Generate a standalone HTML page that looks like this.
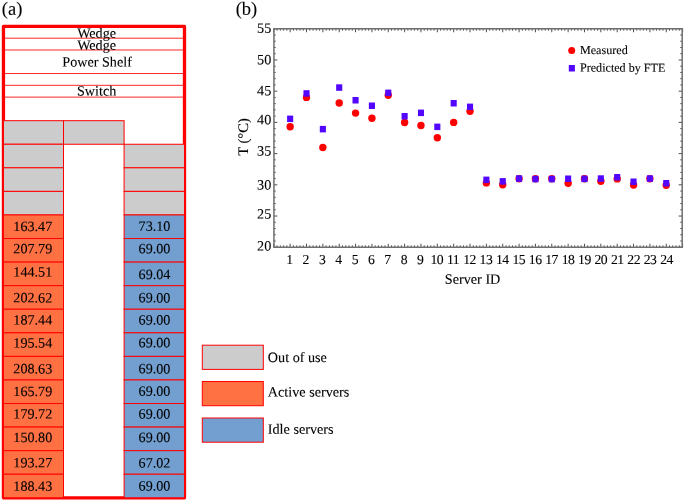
<!DOCTYPE html>
<html lang="en"><head><meta charset="utf-8"><title>Rack power and server temperature</title>
<style>html,body{margin:0;padding:0;background:#fff;}body{width:685px;height:501px;overflow:hidden;}svg{display:block;will-change:transform;}text{font-family:"Liberation Serif", "DejaVu Serif", serif;fill:#000;stroke:#000;stroke-width:0.1px;}</style>
</head><body>
<svg width="685" height="501" viewBox="0 0 685 501">
<rect x="0" y="0" width="685" height="501" fill="#ffffff"/>
<text x="1.8" y="14.7" transform="rotate(0.04 1.8 14.7)" font-size="18.5">(a)</text>
<rect x="3.45" y="26.40" width="181.05" height="471.40" fill="none" stroke="#ff0000" stroke-width="3.3" stroke-linejoin="round"/>
<rect x="3.45" y="120.68" width="60.05" height="23.57" fill="#cccccc" stroke="#ff0000" stroke-width="1.00"/>
<rect x="63.50" y="120.68" width="60.60" height="23.57" fill="#cccccc" stroke="#ff0000" stroke-width="1.00"/>
<rect x="3.45" y="144.25" width="60.05" height="23.57" fill="#cccccc" stroke="#ff0000" stroke-width="1.00"/>
<rect x="124.10" y="144.25" width="60.40" height="23.57" fill="#cccccc" stroke="#ff0000" stroke-width="1.00"/>
<rect x="3.45" y="167.82" width="60.05" height="23.57" fill="#cccccc" stroke="#ff0000" stroke-width="1.00"/>
<rect x="124.10" y="167.82" width="60.40" height="23.57" fill="#cccccc" stroke="#ff0000" stroke-width="1.00"/>
<rect x="3.45" y="191.39" width="60.05" height="23.57" fill="#cccccc" stroke="#ff0000" stroke-width="1.00"/>
<rect x="124.10" y="191.39" width="60.40" height="23.57" fill="#cccccc" stroke="#ff0000" stroke-width="1.00"/>
<rect x="3.45" y="214.96" width="60.05" height="23.57" fill="#ff7043" stroke="#ff0000" stroke-width="1.00"/>
<rect x="124.10" y="214.96" width="60.40" height="23.57" fill="#729fcf" stroke="#ff0000" stroke-width="1.00"/>
<text x="32.80" y="230.95" transform="rotate(0.04 32.80 230.95)" font-size="14.15" text-anchor="middle">163.47</text>
<text x="154.50" y="230.70" transform="rotate(0.04 154.50 230.70)" font-size="14.15" text-anchor="middle">73.10</text>
<rect x="3.45" y="238.53" width="60.05" height="23.57" fill="#ff7043" stroke="#ff0000" stroke-width="1.00"/>
<rect x="124.10" y="238.53" width="60.40" height="23.57" fill="#729fcf" stroke="#ff0000" stroke-width="1.00"/>
<text x="32.80" y="253.28" transform="rotate(0.04 32.80 253.28)" font-size="14.15" text-anchor="middle">207.79</text>
<text x="154.50" y="253.15" transform="rotate(0.04 154.50 253.15)" font-size="14.15" text-anchor="middle">69.00</text>
<rect x="3.45" y="262.10" width="60.05" height="23.57" fill="#ff7043" stroke="#ff0000" stroke-width="1.00"/>
<rect x="124.10" y="262.10" width="60.40" height="23.57" fill="#729fcf" stroke="#ff0000" stroke-width="1.00"/>
<text x="32.80" y="276.50" transform="rotate(0.04 32.80 276.50)" font-size="14.15" text-anchor="middle">144.51</text>
<text x="154.50" y="279.10" transform="rotate(0.04 154.50 279.10)" font-size="14.15" text-anchor="middle">69.04</text>
<rect x="3.45" y="285.67" width="60.05" height="23.57" fill="#ff7043" stroke="#ff0000" stroke-width="1.00"/>
<rect x="124.10" y="285.67" width="60.40" height="23.57" fill="#729fcf" stroke="#ff0000" stroke-width="1.00"/>
<text x="32.80" y="302.39" transform="rotate(0.04 32.80 302.39)" font-size="14.15" text-anchor="middle">202.62</text>
<text x="154.50" y="302.39" transform="rotate(0.04 154.50 302.39)" font-size="14.15" text-anchor="middle">69.00</text>
<rect x="3.45" y="309.24" width="60.05" height="23.57" fill="#ff7043" stroke="#ff0000" stroke-width="1.00"/>
<rect x="124.10" y="309.24" width="60.40" height="23.57" fill="#729fcf" stroke="#ff0000" stroke-width="1.00"/>
<text x="32.80" y="324.58" transform="rotate(0.04 32.80 324.58)" font-size="14.15" text-anchor="middle">187.44</text>
<text x="154.50" y="324.40" transform="rotate(0.04 154.50 324.40)" font-size="14.15" text-anchor="middle">69.00</text>
<rect x="3.45" y="332.81" width="60.05" height="23.57" fill="#ff7043" stroke="#ff0000" stroke-width="1.00"/>
<rect x="124.10" y="332.81" width="60.40" height="23.57" fill="#729fcf" stroke="#ff0000" stroke-width="1.00"/>
<text x="32.80" y="347.50" transform="rotate(0.04 32.80 347.50)" font-size="14.15" text-anchor="middle">195.54</text>
<text x="154.50" y="347.30" transform="rotate(0.04 154.50 347.30)" font-size="14.15" text-anchor="middle">69.00</text>
<rect x="3.45" y="356.38" width="60.05" height="23.57" fill="#ff7043" stroke="#ff0000" stroke-width="1.00"/>
<rect x="124.10" y="356.38" width="60.40" height="23.57" fill="#729fcf" stroke="#ff0000" stroke-width="1.00"/>
<text x="32.80" y="373.39" transform="rotate(0.04 32.80 373.39)" font-size="14.15" text-anchor="middle">208.63</text>
<text x="154.50" y="373.39" transform="rotate(0.04 154.50 373.39)" font-size="14.15" text-anchor="middle">69.00</text>
<rect x="3.45" y="379.95" width="60.05" height="23.57" fill="#ff7043" stroke="#ff0000" stroke-width="1.00"/>
<rect x="124.10" y="379.95" width="60.40" height="23.57" fill="#729fcf" stroke="#ff0000" stroke-width="1.00"/>
<text x="32.80" y="396.00" transform="rotate(0.04 32.80 396.00)" font-size="14.15" text-anchor="middle">165.79</text>
<text x="154.50" y="395.70" transform="rotate(0.04 154.50 395.70)" font-size="14.15" text-anchor="middle">69.00</text>
<rect x="3.45" y="403.52" width="60.05" height="23.57" fill="#ff7043" stroke="#ff0000" stroke-width="1.00"/>
<rect x="124.10" y="403.52" width="60.40" height="23.57" fill="#729fcf" stroke="#ff0000" stroke-width="1.00"/>
<text x="32.80" y="418.50" transform="rotate(0.04 32.80 418.50)" font-size="14.15" text-anchor="middle">179.72</text>
<text x="154.50" y="418.50" transform="rotate(0.04 154.50 418.50)" font-size="14.15" text-anchor="middle">69.00</text>
<rect x="3.45" y="427.09" width="60.05" height="23.57" fill="#ff7043" stroke="#ff0000" stroke-width="1.00"/>
<rect x="124.10" y="427.09" width="60.40" height="23.57" fill="#729fcf" stroke="#ff0000" stroke-width="1.00"/>
<text x="32.80" y="442.00" transform="rotate(0.04 32.80 442.00)" font-size="14.15" text-anchor="middle">150.80</text>
<text x="154.50" y="442.00" transform="rotate(0.04 154.50 442.00)" font-size="14.15" text-anchor="middle">69.00</text>
<rect x="3.45" y="450.66" width="60.05" height="23.57" fill="#ff7043" stroke="#ff0000" stroke-width="1.00"/>
<rect x="124.10" y="450.66" width="60.40" height="23.57" fill="#729fcf" stroke="#ff0000" stroke-width="1.00"/>
<text x="32.80" y="467.20" transform="rotate(0.04 32.80 467.20)" font-size="14.15" text-anchor="middle">193.27</text>
<text x="154.50" y="467.40" transform="rotate(0.04 154.50 467.40)" font-size="14.15" text-anchor="middle">67.02</text>
<rect x="3.45" y="474.23" width="60.05" height="23.57" fill="#ff7043" stroke="#ff0000" stroke-width="1.00"/>
<rect x="124.10" y="474.23" width="60.40" height="23.57" fill="#729fcf" stroke="#ff0000" stroke-width="1.00"/>
<text x="32.80" y="490.70" transform="rotate(0.04 32.80 490.70)" font-size="14.15" text-anchor="middle">188.43</text>
<text x="154.50" y="490.60" transform="rotate(0.04 154.50 490.60)" font-size="14.15" text-anchor="middle">69.00</text>
<line x1="3.45" y1="38.19" x2="184.50" y2="38.19" stroke="#ff0000" stroke-width="0.85"/>
<line x1="3.45" y1="49.97" x2="184.50" y2="49.97" stroke="#ff0000" stroke-width="0.85"/>
<line x1="3.45" y1="73.54" x2="184.50" y2="73.54" stroke="#ff0000" stroke-width="0.85"/>
<line x1="3.45" y1="85.32" x2="184.50" y2="85.32" stroke="#ff0000" stroke-width="0.85"/>
<line x1="3.45" y1="97.11" x2="184.50" y2="97.11" stroke="#ff0000" stroke-width="0.85"/>
<text x="96.6" y="37.7" transform="rotate(0.04 96.6 37.7)" font-size="14.15" text-anchor="middle">Wedge</text>
<text x="96.6" y="49.8" transform="rotate(0.04 96.6 49.8)" font-size="14.15" text-anchor="middle">Wedge</text>
<text x="97.1" y="66.5" transform="rotate(0.04 97.1 66.5)" font-size="14.15" text-anchor="middle">Power Shelf</text>
<text x="96.6" y="95.5" transform="rotate(0.04 96.6 95.5)" font-size="14.15" text-anchor="middle">Switch</text>
<rect x="202.3" y="345.20" width="61" height="24.2" fill="#cccccc" stroke="#ff0000" stroke-width="1"/>
<text x="267.8" y="362.00" transform="rotate(0.04 267.8 362.00)" font-size="14.2">Out of use</text>
<rect x="202.3" y="381.50" width="61" height="24.2" fill="#ff7043" stroke="#ff0000" stroke-width="1"/>
<text x="267.8" y="396.40" transform="rotate(0.04 267.8 396.40)" font-size="14.2">Active servers</text>
<rect x="202.3" y="418.00" width="61" height="24.2" fill="#729fcf" stroke="#ff0000" stroke-width="1"/>
<text x="267.8" y="433.80" transform="rotate(0.04 267.8 433.80)" font-size="14.2">Idle servers</text>
<text x="235.7" y="14.7" transform="rotate(0.04 235.7 14.7)" font-size="18.5">(b)</text>
<path d="M273.80 247.25v-3.50M273.80 28.75v3.50M277.07 247.25v-1.90M277.07 28.75v1.90M280.34 247.25v-1.90M280.34 28.75v1.90M283.61 247.25v-1.90M283.61 28.75v1.90M286.88 247.25v-1.90M286.88 28.75v1.90M290.15 247.25v-3.50M290.15 28.75v3.50M293.42 247.25v-1.90M293.42 28.75v1.90M296.69 247.25v-1.90M296.69 28.75v1.90M299.96 247.25v-1.90M299.96 28.75v1.90M303.23 247.25v-1.90M303.23 28.75v1.90M306.50 247.25v-3.50M306.50 28.75v3.50M309.77 247.25v-1.90M309.77 28.75v1.90M313.04 247.25v-1.90M313.04 28.75v1.90M316.32 247.25v-1.90M316.32 28.75v1.90M319.59 247.25v-1.90M319.59 28.75v1.90M322.86 247.25v-3.50M322.86 28.75v3.50M326.13 247.25v-1.90M326.13 28.75v1.90M329.40 247.25v-1.90M329.40 28.75v1.90M332.67 247.25v-1.90M332.67 28.75v1.90M335.94 247.25v-1.90M335.94 28.75v1.90M339.21 247.25v-3.50M339.21 28.75v3.50M342.48 247.25v-1.90M342.48 28.75v1.90M345.75 247.25v-1.90M345.75 28.75v1.90M349.02 247.25v-1.90M349.02 28.75v1.90M352.29 247.25v-1.90M352.29 28.75v1.90M355.56 247.25v-3.50M355.56 28.75v3.50M358.83 247.25v-1.90M358.83 28.75v1.90M362.10 247.25v-1.90M362.10 28.75v1.90M365.37 247.25v-1.90M365.37 28.75v1.90M368.64 247.25v-1.90M368.64 28.75v1.90M371.91 247.25v-3.50M371.91 28.75v3.50M375.18 247.25v-1.90M375.18 28.75v1.90M378.45 247.25v-1.90M378.45 28.75v1.90M381.72 247.25v-1.90M381.72 28.75v1.90M384.99 247.25v-1.90M384.99 28.75v1.90M388.26 247.25v-3.50M388.26 28.75v3.50M391.53 247.25v-1.90M391.53 28.75v1.90M394.80 247.25v-1.90M394.80 28.75v1.90M398.08 247.25v-1.90M398.08 28.75v1.90M401.35 247.25v-1.90M401.35 28.75v1.90M404.62 247.25v-3.50M404.62 28.75v3.50M407.89 247.25v-1.90M407.89 28.75v1.90M411.16 247.25v-1.90M411.16 28.75v1.90M414.43 247.25v-1.90M414.43 28.75v1.90M417.70 247.25v-1.90M417.70 28.75v1.90M420.97 247.25v-3.50M420.97 28.75v3.50M424.24 247.25v-1.90M424.24 28.75v1.90M427.51 247.25v-1.90M427.51 28.75v1.90M430.78 247.25v-1.90M430.78 28.75v1.90M434.05 247.25v-1.90M434.05 28.75v1.90M437.32 247.25v-3.50M437.32 28.75v3.50M440.59 247.25v-1.90M440.59 28.75v1.90M443.86 247.25v-1.90M443.86 28.75v1.90M447.13 247.25v-1.90M447.13 28.75v1.90M450.40 247.25v-1.90M450.40 28.75v1.90M453.67 247.25v-3.50M453.67 28.75v3.50M456.94 247.25v-1.90M456.94 28.75v1.90M460.21 247.25v-1.90M460.21 28.75v1.90M463.48 247.25v-1.90M463.48 28.75v1.90M466.75 247.25v-1.90M466.75 28.75v1.90M470.02 247.25v-3.50M470.02 28.75v3.50M473.29 247.25v-1.90M473.29 28.75v1.90M476.56 247.25v-1.90M476.56 28.75v1.90M479.84 247.25v-1.90M479.84 28.75v1.90M483.11 247.25v-1.90M483.11 28.75v1.90M486.38 247.25v-3.50M486.38 28.75v3.50M489.65 247.25v-1.90M489.65 28.75v1.90M492.92 247.25v-1.90M492.92 28.75v1.90M496.19 247.25v-1.90M496.19 28.75v1.90M499.46 247.25v-1.90M499.46 28.75v1.90M502.73 247.25v-3.50M502.73 28.75v3.50M506.00 247.25v-1.90M506.00 28.75v1.90M509.27 247.25v-1.90M509.27 28.75v1.90M512.54 247.25v-1.90M512.54 28.75v1.90M515.81 247.25v-1.90M515.81 28.75v1.90M519.08 247.25v-3.50M519.08 28.75v3.50M522.35 247.25v-1.90M522.35 28.75v1.90M525.62 247.25v-1.90M525.62 28.75v1.90M528.89 247.25v-1.90M528.89 28.75v1.90M532.16 247.25v-1.90M532.16 28.75v1.90M535.43 247.25v-3.50M535.43 28.75v3.50M538.70 247.25v-1.90M538.70 28.75v1.90M541.97 247.25v-1.90M541.97 28.75v1.90M545.24 247.25v-1.90M545.24 28.75v1.90M548.51 247.25v-1.90M548.51 28.75v1.90M551.78 247.25v-3.50M551.78 28.75v3.50M555.05 247.25v-1.90M555.05 28.75v1.90M558.32 247.25v-1.90M558.32 28.75v1.90M561.60 247.25v-1.90M561.60 28.75v1.90M564.87 247.25v-1.90M564.87 28.75v1.90M568.14 247.25v-3.50M568.14 28.75v3.50M571.41 247.25v-1.90M571.41 28.75v1.90M574.68 247.25v-1.90M574.68 28.75v1.90M577.95 247.25v-1.90M577.95 28.75v1.90M581.22 247.25v-1.90M581.22 28.75v1.90M584.49 247.25v-3.50M584.49 28.75v3.50M587.76 247.25v-1.90M587.76 28.75v1.90M591.03 247.25v-1.90M591.03 28.75v1.90M594.30 247.25v-1.90M594.30 28.75v1.90M597.57 247.25v-1.90M597.57 28.75v1.90M600.84 247.25v-3.50M600.84 28.75v3.50M604.11 247.25v-1.90M604.11 28.75v1.90M607.38 247.25v-1.90M607.38 28.75v1.90M610.65 247.25v-1.90M610.65 28.75v1.90M613.92 247.25v-1.90M613.92 28.75v1.90M617.19 247.25v-3.50M617.19 28.75v3.50M620.46 247.25v-1.90M620.46 28.75v1.90M623.73 247.25v-1.90M623.73 28.75v1.90M627.00 247.25v-1.90M627.00 28.75v1.90M630.27 247.25v-1.90M630.27 28.75v1.90M633.54 247.25v-3.50M633.54 28.75v3.50M636.81 247.25v-1.90M636.81 28.75v1.90M640.08 247.25v-1.90M640.08 28.75v1.90M643.36 247.25v-1.90M643.36 28.75v1.90M646.63 247.25v-1.90M646.63 28.75v1.90M649.90 247.25v-3.50M649.90 28.75v3.50M653.17 247.25v-1.90M653.17 28.75v1.90M656.44 247.25v-1.90M656.44 28.75v1.90M659.71 247.25v-1.90M659.71 28.75v1.90M662.98 247.25v-1.90M662.98 28.75v1.90M666.25 247.25v-3.50M666.25 28.75v3.50M669.52 247.25v-1.90M669.52 28.75v1.90M672.79 247.25v-1.90M672.79 28.75v1.90M676.06 247.25v-1.90M676.06 28.75v1.90M679.33 247.25v-1.90M679.33 28.75v1.90M682.60 247.25v-3.50M682.60 28.75v3.50M273.80 247.25h3.50M682.20 247.25h-3.50M273.80 241.01h1.90M682.20 241.01h-1.90M273.80 234.76h1.90M682.20 234.76h-1.90M273.80 228.52h1.90M682.20 228.52h-1.90M273.80 222.28h1.90M682.20 222.28h-1.90M273.80 216.04h3.50M682.20 216.04h-3.50M273.80 209.79h1.90M682.20 209.79h-1.90M273.80 203.55h1.90M682.20 203.55h-1.90M273.80 197.31h1.90M682.20 197.31h-1.90M273.80 191.06h1.90M682.20 191.06h-1.90M273.80 184.82h3.50M682.20 184.82h-3.50M273.80 178.58h1.90M682.20 178.58h-1.90M273.80 172.34h1.90M682.20 172.34h-1.90M273.80 166.09h1.90M682.20 166.09h-1.90M273.80 159.85h1.90M682.20 159.85h-1.90M273.80 153.61h3.50M682.20 153.61h-3.50M273.80 147.36h1.90M682.20 147.36h-1.90M273.80 141.12h1.90M682.20 141.12h-1.90M273.80 134.88h1.90M682.20 134.88h-1.90M273.80 128.64h1.90M682.20 128.64h-1.90M273.80 122.39h3.50M682.20 122.39h-3.50M273.80 116.15h1.90M682.20 116.15h-1.90M273.80 109.91h1.90M682.20 109.91h-1.90M273.80 103.66h1.90M682.20 103.66h-1.90M273.80 97.42h1.90M682.20 97.42h-1.90M273.80 91.18h3.50M682.20 91.18h-3.50M273.80 84.94h1.90M682.20 84.94h-1.90M273.80 78.69h1.90M682.20 78.69h-1.90M273.80 72.45h1.90M682.20 72.45h-1.90M273.80 66.21h1.90M682.20 66.21h-1.90M273.80 59.96h3.50M682.20 59.96h-3.50M273.80 53.72h1.90M682.20 53.72h-1.90M273.80 47.48h1.90M682.20 47.48h-1.90M273.80 41.24h1.90M682.20 41.24h-1.90M273.80 34.99h1.90M682.20 34.99h-1.90M273.80 28.75h3.50M682.20 28.75h-3.50" stroke="#4d4d4d" stroke-width="1" fill="none"/>
<rect x="273.95" y="28.75" width="408.25" height="218.50" fill="none" stroke="#6e6e6e" stroke-width="1.5"/>
<text x="271.30" y="250.40" transform="rotate(0.04 271.30 250.40)" font-size="14.2" text-anchor="end">20</text>
<text x="271.30" y="218.54" transform="rotate(0.04 271.30 218.54)" font-size="14.2" text-anchor="end">25</text>
<text x="271.30" y="189.46" transform="rotate(0.04 271.30 189.46)" font-size="14.2" text-anchor="end">30</text>
<text x="271.30" y="155.48" transform="rotate(0.04 271.30 155.48)" font-size="14.2" text-anchor="end">35</text>
<text x="271.30" y="124.36" transform="rotate(0.04 271.30 124.36)" font-size="14.2" text-anchor="end">40</text>
<text x="271.30" y="95.34" transform="rotate(0.04 271.30 95.34)" font-size="14.2" text-anchor="end">45</text>
<text x="271.30" y="64.16" transform="rotate(0.04 271.30 64.16)" font-size="14.2" text-anchor="end">50</text>
<text x="271.30" y="32.66" transform="rotate(0.04 271.30 32.66)" font-size="14.2" text-anchor="end">55</text>
<text x="289.65" y="264.00" transform="rotate(0.04 289.65 264.00)" font-size="13.7" text-anchor="middle">1</text>
<text x="306.00" y="264.00" transform="rotate(0.04 306.00 264.00)" font-size="13.7" text-anchor="middle">2</text>
<text x="322.36" y="264.00" transform="rotate(0.04 322.36 264.00)" font-size="13.7" text-anchor="middle">3</text>
<text x="338.71" y="264.00" transform="rotate(0.04 338.71 264.00)" font-size="13.7" text-anchor="middle">4</text>
<text x="355.06" y="264.00" transform="rotate(0.04 355.06 264.00)" font-size="13.7" text-anchor="middle">5</text>
<text x="371.41" y="264.00" transform="rotate(0.04 371.41 264.00)" font-size="13.7" text-anchor="middle">6</text>
<text x="387.76" y="264.00" transform="rotate(0.04 387.76 264.00)" font-size="13.7" text-anchor="middle">7</text>
<text x="404.12" y="264.00" transform="rotate(0.04 404.12 264.00)" font-size="13.7" text-anchor="middle">8</text>
<text x="420.47" y="264.00" transform="rotate(0.04 420.47 264.00)" font-size="13.7" text-anchor="middle">9</text>
<text x="436.72" y="264.00" transform="rotate(0.04 436.72 264.00)" font-size="13.7" text-anchor="middle" letter-spacing="-0.5">10</text>
<text x="453.13" y="264.00" transform="rotate(0.04 453.13 264.00)" font-size="13.7" text-anchor="middle" letter-spacing="-0.5">11</text>
<text x="469.54" y="264.00" transform="rotate(0.04 469.54 264.00)" font-size="13.7" text-anchor="middle" letter-spacing="-0.5">12</text>
<text x="485.96" y="264.00" transform="rotate(0.04 485.96 264.00)" font-size="13.7" text-anchor="middle" letter-spacing="-0.5">13</text>
<text x="502.37" y="264.00" transform="rotate(0.04 502.37 264.00)" font-size="13.7" text-anchor="middle" letter-spacing="-0.5">14</text>
<text x="518.78" y="264.00" transform="rotate(0.04 518.78 264.00)" font-size="13.7" text-anchor="middle" letter-spacing="-0.5">15</text>
<text x="535.19" y="264.00" transform="rotate(0.04 535.19 264.00)" font-size="13.7" text-anchor="middle" letter-spacing="-0.5">16</text>
<text x="551.60" y="264.00" transform="rotate(0.04 551.60 264.00)" font-size="13.7" text-anchor="middle" letter-spacing="-0.5">17</text>
<text x="568.02" y="264.00" transform="rotate(0.04 568.02 264.00)" font-size="13.7" text-anchor="middle" letter-spacing="-0.5">18</text>
<text x="584.43" y="264.00" transform="rotate(0.04 584.43 264.00)" font-size="13.7" text-anchor="middle" letter-spacing="-0.5">19</text>
<text x="600.84" y="264.00" transform="rotate(0.04 600.84 264.00)" font-size="13.7" text-anchor="middle" letter-spacing="-0.5">20</text>
<text x="617.25" y="264.00" transform="rotate(0.04 617.25 264.00)" font-size="13.7" text-anchor="middle" letter-spacing="-0.5">21</text>
<text x="633.66" y="264.00" transform="rotate(0.04 633.66 264.00)" font-size="13.7" text-anchor="middle" letter-spacing="-0.5">22</text>
<text x="650.08" y="264.00" transform="rotate(0.04 650.08 264.00)" font-size="13.7" text-anchor="middle" letter-spacing="-0.5">23</text>
<text x="666.49" y="264.00" transform="rotate(0.04 666.49 264.00)" font-size="13.7" text-anchor="middle" letter-spacing="-0.5">24</text>
<text x="472.6" y="283.8" transform="rotate(0.04 472.6 283.8)" font-size="14.2" text-anchor="middle">Server ID</text>
<text transform="translate(247.9,137) rotate(-89.96)" font-size="14.6" text-anchor="middle">T (°C)</text>
<circle cx="290.15" cy="126.70" r="3.7" fill="#ff0000"/>
<circle cx="306.50" cy="97.40" r="3.7" fill="#ff0000"/>
<circle cx="322.86" cy="147.50" r="3.7" fill="#ff0000"/>
<circle cx="339.21" cy="103.00" r="3.7" fill="#ff0000"/>
<circle cx="355.56" cy="113.10" r="3.7" fill="#ff0000"/>
<circle cx="371.91" cy="118.20" r="3.7" fill="#ff0000"/>
<circle cx="388.26" cy="95.20" r="3.7" fill="#ff0000"/>
<circle cx="404.62" cy="122.50" r="3.7" fill="#ff0000"/>
<circle cx="420.97" cy="125.50" r="3.7" fill="#ff0000"/>
<circle cx="437.32" cy="137.70" r="3.7" fill="#ff0000"/>
<circle cx="453.67" cy="122.40" r="3.7" fill="#ff0000"/>
<circle cx="470.02" cy="111.20" r="3.7" fill="#ff0000"/>
<circle cx="486.38" cy="182.90" r="3.7" fill="#ff0000"/>
<circle cx="502.73" cy="184.70" r="3.7" fill="#ff0000"/>
<circle cx="519.08" cy="178.80" r="3.7" fill="#ff0000"/>
<circle cx="535.43" cy="178.80" r="3.7" fill="#ff0000"/>
<circle cx="551.78" cy="178.70" r="3.7" fill="#ff0000"/>
<circle cx="568.14" cy="183.20" r="3.7" fill="#ff0000"/>
<circle cx="584.49" cy="178.80" r="3.7" fill="#ff0000"/>
<circle cx="600.84" cy="181.30" r="3.7" fill="#ff0000"/>
<circle cx="617.19" cy="178.90" r="3.7" fill="#ff0000"/>
<circle cx="633.54" cy="185.00" r="3.7" fill="#ff0000"/>
<circle cx="649.90" cy="178.80" r="3.7" fill="#ff0000"/>
<circle cx="666.25" cy="185.30" r="3.7" fill="#ff0000"/>
<rect x="287.10" y="115.60" width="6.1" height="6.5" fill="#5205ff"/>
<rect x="303.45" y="90.20" width="6.1" height="6.5" fill="#5205ff"/>
<rect x="319.81" y="125.90" width="6.1" height="6.5" fill="#5205ff"/>
<rect x="336.16" y="84.30" width="6.1" height="6.5" fill="#5205ff"/>
<rect x="352.51" y="97.00" width="6.1" height="6.5" fill="#5205ff"/>
<rect x="368.86" y="102.50" width="6.1" height="6.5" fill="#5205ff"/>
<rect x="385.21" y="89.60" width="6.1" height="6.5" fill="#5205ff"/>
<rect x="401.57" y="113.00" width="6.1" height="6.5" fill="#5205ff"/>
<rect x="417.92" y="109.60" width="6.1" height="6.5" fill="#5205ff"/>
<rect x="434.27" y="123.60" width="6.1" height="6.5" fill="#5205ff"/>
<rect x="450.62" y="100.00" width="6.1" height="6.5" fill="#5205ff"/>
<rect x="466.97" y="103.60" width="6.1" height="6.5" fill="#5205ff"/>
<rect x="483.33" y="176.60" width="6.1" height="6.5" fill="#5205ff"/>
<rect x="499.68" y="178.10" width="6.1" height="6.5" fill="#5205ff"/>
<rect x="516.03" y="175.30" width="6.1" height="6.5" fill="#5205ff"/>
<rect x="532.38" y="175.80" width="6.1" height="6.5" fill="#5205ff"/>
<rect x="548.73" y="175.80" width="6.1" height="6.5" fill="#5205ff"/>
<rect x="565.09" y="175.50" width="6.1" height="6.5" fill="#5205ff"/>
<rect x="581.44" y="175.60" width="6.1" height="6.5" fill="#5205ff"/>
<rect x="597.79" y="175.30" width="6.1" height="6.5" fill="#5205ff"/>
<rect x="614.14" y="174.00" width="6.1" height="6.5" fill="#5205ff"/>
<rect x="630.49" y="178.50" width="6.1" height="6.5" fill="#5205ff"/>
<rect x="646.85" y="175.30" width="6.1" height="6.5" fill="#5205ff"/>
<rect x="663.20" y="180.00" width="6.1" height="6.5" fill="#5205ff"/>
<circle cx="571.7" cy="50.4" r="3.5" fill="#ff0000"/>
<rect x="568.8" y="65" width="6.1" height="6.5" fill="#5205ff"/>
<text x="580.0" y="54" transform="rotate(0.04 580.0 54)" font-size="12.1">Measured</text>
<text x="580.0" y="71.6" transform="rotate(0.04 580.0 71.6)" font-size="12.1">Predicted by FTE</text>
</svg>
</body></html>
